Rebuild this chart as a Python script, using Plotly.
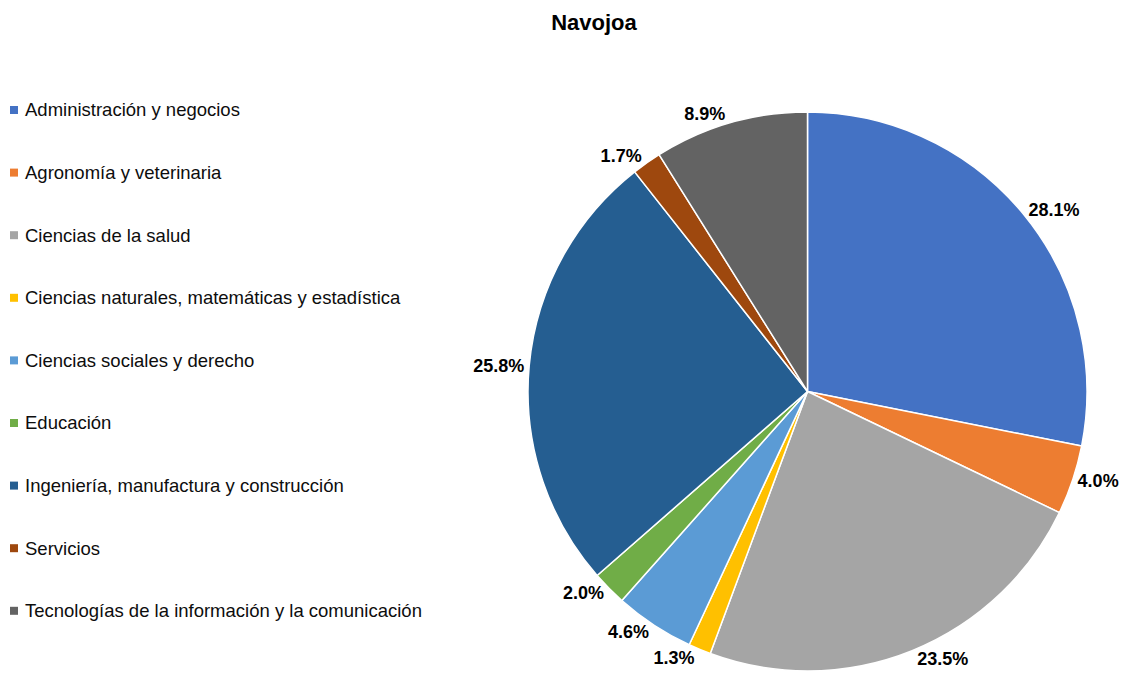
import plotly.graph_objects as go

categories = [
    "Administración y negocios",
    "Agronomía y veterinaria",
    "Ciencias de la salud",
    "Ciencias naturales, matemáticas y estadística",
    "Ciencias sociales y derecho",
    "Educación",
    "Ingeniería, manufactura y construcción",
    "Servicios",
    "Tecnologías de la información y la comunicación",
]
shares = [28.1, 4.0, 23.5, 1.3, 4.6, 2.0, 25.8, 1.7, 8.9]
colors = ["#4472C4", "#ED7D31", "#A5A5A5", "#FFC000", "#5B9BD5",
          "#70AD47", "#255E91", "#9E480E", "#636363"]

W, H = 1143, 689
FONT = "Liberation Sans, Arial, sans-serif"

fig = go.Figure()
fig.add_trace(
    go.Pie(
        labels=categories,
        values=shares,
        sort=False,
        direction="clockwise",
        rotation=0,
        marker=dict(colors=colors, line=dict(color="white", width=1.5)),
        texttemplate="%{value:.1f}%",
        textposition="outside",
        textfont=dict(family=FONT, size=18, color="#000000", weight="bold"),
        showlegend=False,
        hoverinfo="label+value",
        domain=dict(x=[528 / W, 1087 / W], y=[1 - 671 / H, 1 - 112 / H]),
    )
)

# Excel-style legend on the left: small square + label, evenly spaced
top, step = 110, 62.6
for i, (name, col) in enumerate(zip(categories, colors)):
    yc = 1 - (top + step * i) / H
    fig.add_shape(type="rect", xref="paper", yref="paper",
                  x0=10 / W, x1=18 / W, y0=yc - 4 / H, y1=yc + 4 / H,
                  fillcolor=col, line=dict(width=0))
    fig.add_annotation(text=name, xref="paper", yref="paper",
                       x=23 / W, y=yc, xanchor="left", yanchor="middle",
                       showarrow=False,
                       font=dict(family=FONT, size=18.5, color="#0d0d0d"))

fig.update_layout(
    width=W, height=H,
    margin=dict(l=0, r=0, t=0, b=0),
    paper_bgcolor="white", plot_bgcolor="white",
    title=dict(text="<b>Navojoa</b>", x=594 / W, xanchor="center",
               y=1 - 22 / H, yanchor="middle", yref="container",
               font=dict(family=FONT, size=22, color="#000000")),
    showlegend=False,
)

# drop the browser's default body margin so the figure sits at (0, 0)
fig.write_html("out.html", config={"displayModeBar": False},
               post_script="document.body.style.margin='0';")
